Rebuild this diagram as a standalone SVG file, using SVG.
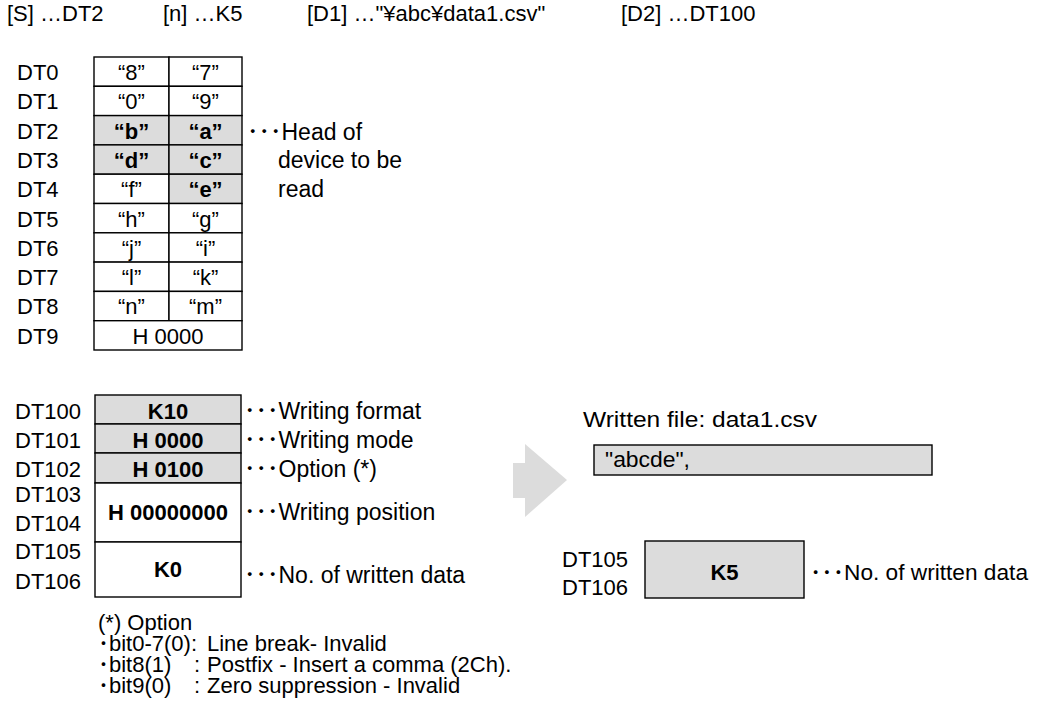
<svg xmlns="http://www.w3.org/2000/svg" width="1041" height="710" viewBox="0 0 1041 710">
<style>
text{font-family:"Liberation Sans",Arial,"Noto Sans CJK JP",sans-serif;font-size:22px;fill:#000}
.b{font-weight:bold}
.c{text-anchor:middle}
.a{font-size:23px}
.cell{fill:#fff;stroke:#000;stroke-width:1.4}
.g{fill:#dcdcdc;stroke:#000;stroke-width:1.4}
</style>
<rect width="1041" height="710" fill="#fff"/>
<g id="header">
<text x="7" y="21">[S] …DT2</text>
<text x="163" y="21">[n] …K5</text>
<text x="307" y="21">[D1] …"¥abc¥data1.csv"</text>
<text x="621" y="21">[D2] …DT100</text>
</g>
<g id="source-table">
<rect class="cell" x="94" y="57" width="75" height="29.3"/><rect class="cell" x="169" y="57" width="73" height="29.3"/>
<rect class="cell" x="94" y="86.3" width="75" height="29.3"/><rect class="cell" x="169" y="86.3" width="73" height="29.3"/>
<rect class="g" x="94" y="115.6" width="75" height="29.3"/><rect class="g" x="169" y="115.6" width="73" height="29.3"/>
<rect class="g" x="94" y="144.9" width="75" height="29.3"/><rect class="g" x="169" y="144.9" width="73" height="29.3"/>
<rect class="cell" x="94" y="174.2" width="75" height="29.3"/><rect class="g" x="169" y="174.2" width="73" height="29.3"/>
<rect class="cell" x="94" y="203.5" width="75" height="29.3"/><rect class="cell" x="169" y="203.5" width="73" height="29.3"/>
<rect class="cell" x="94" y="232.8" width="75" height="29.3"/><rect class="cell" x="169" y="232.8" width="73" height="29.3"/>
<rect class="cell" x="94" y="262.1" width="75" height="29.3"/><rect class="cell" x="169" y="262.1" width="73" height="29.3"/>
<rect class="cell" x="94" y="291.4" width="75" height="29.3"/><rect class="cell" x="169" y="291.4" width="73" height="29.3"/>
<rect class="cell" x="94" y="320.7" width="148" height="29.3"/>
<text x="17" y="80">DT0</text><text class="c" x="131.5" y="80">“8”</text><text class="c" x="205.5" y="80">“7”</text>
<text x="17" y="109.3">DT1</text><text class="c" x="131.5" y="109.3">“0”</text><text class="c" x="205.5" y="109.3">“9”</text>
<text x="17" y="138.6">DT2</text><text class="c b" x="131.5" y="138.6">“b”</text><text class="c b" x="205.5" y="138.6">“a”</text>
<text x="17" y="167.9">DT3</text><text class="c b" x="131.5" y="167.9">“d”</text><text class="c b" x="205.5" y="167.9">“c”</text>
<text x="17" y="197.2">DT4</text><text class="c" x="131.5" y="197.2">“f”</text><text class="c b" x="205.5" y="197.2">“e”</text>
<text x="17" y="226.5">DT5</text><text class="c" x="131.5" y="226.5">“h”</text><text class="c" x="205.5" y="226.5">“g”</text>
<text x="17" y="255.8">DT6</text><text class="c" x="131.5" y="255.8">“j”</text><text class="c" x="205.5" y="255.8">“i”</text>
<text x="17" y="285.1">DT7</text><text class="c" x="131.5" y="285.1">“l”</text><text class="c" x="205.5" y="285.1">“k”</text>
<text x="17" y="314.4">DT8</text><text class="c" x="131.5" y="314.4">“n”</text><text class="c" x="205.5" y="314.4">“m”</text>
<text x="17" y="343.7">DT9</text><text class="c" x="168" y="343.7">H 0000</text>
<text class="a" x="247" y="140">･･･Head of</text>
<text class="a" x="278" y="168">device to be</text>
<text class="a" x="278" y="197">read</text>
</g>
<g id="param-table">
<rect class="g" x="95" y="395" width="146" height="29"/>
<rect class="g" x="95" y="424" width="146" height="29"/>
<rect class="g" x="95" y="453" width="146" height="30"/>
<rect class="cell" x="95" y="483" width="146" height="59"/>
<rect class="cell" x="95" y="542" width="146" height="55"/>
<text x="15" y="419">DT100</text><text class="c b" x="168" y="419">K10</text><text class="a" x="244" y="419">･･･Writing format</text>
<text x="15" y="448">DT101</text><text class="c b" x="168" y="448">H 0000</text><text class="a" x="244" y="448">･･･Writing mode</text>
<text x="15" y="477">DT102</text><text class="c b" x="168" y="477">H 0100</text><text class="a" x="244" y="477">･･･Option (*)</text>
<text x="15" y="502">DT103</text>
<text x="15" y="531">DT104</text><text class="c b" x="168" y="520">H 00000000</text><text class="a" x="244" y="520">･･･Writing position</text>
<text x="15" y="559">DT105</text>
<text x="15" y="589">DT106</text><text class="c b" x="168" y="577">K0</text><text class="a" x="244" y="583">･･･No. of written data</text>
</g>
<g id="connectors">
<polygon points="513,463 525,463 525,444 567,480 525,517 525,498 513,498" fill="#dcdcdc"/>
</g>
<g id="result">
<text x="583" y="427" textLength="234" lengthAdjust="spacingAndGlyphs">Written file: data1.csv</text>
<rect class="g" x="594" y="445" width="338" height="30"/>
<text x="605" y="467" textLength="85" lengthAdjust="spacingAndGlyphs">"abcde",</text>
<rect class="g" x="645" y="541" width="159" height="57"/>
<text x="562" y="567">DT105</text>
<text x="562" y="595">DT106</text>
<text class="c b" x="724.5" y="580">K5</text>
<text x="810" y="580" textLength="218" lengthAdjust="spacingAndGlyphs">･･･No. of written data</text>
</g>
<g id="note">
<text x="98" y="630">(*) Option</text>
<text y="651"><tspan x="98">･bit0-7(0):</tspan><tspan x="207">Line break- Invalid</tspan></text>
<text y="672"><tspan x="98">･bit8(1)</tspan><tspan x="194">:</tspan><tspan x="207">Postfix - Insert a comma (2Ch).</tspan></text>
<text y="693"><tspan x="98">･bit9(0)</tspan><tspan x="194">:</tspan><tspan x="207">Zero suppression - Invalid</tspan></text>
</g>
</svg>
